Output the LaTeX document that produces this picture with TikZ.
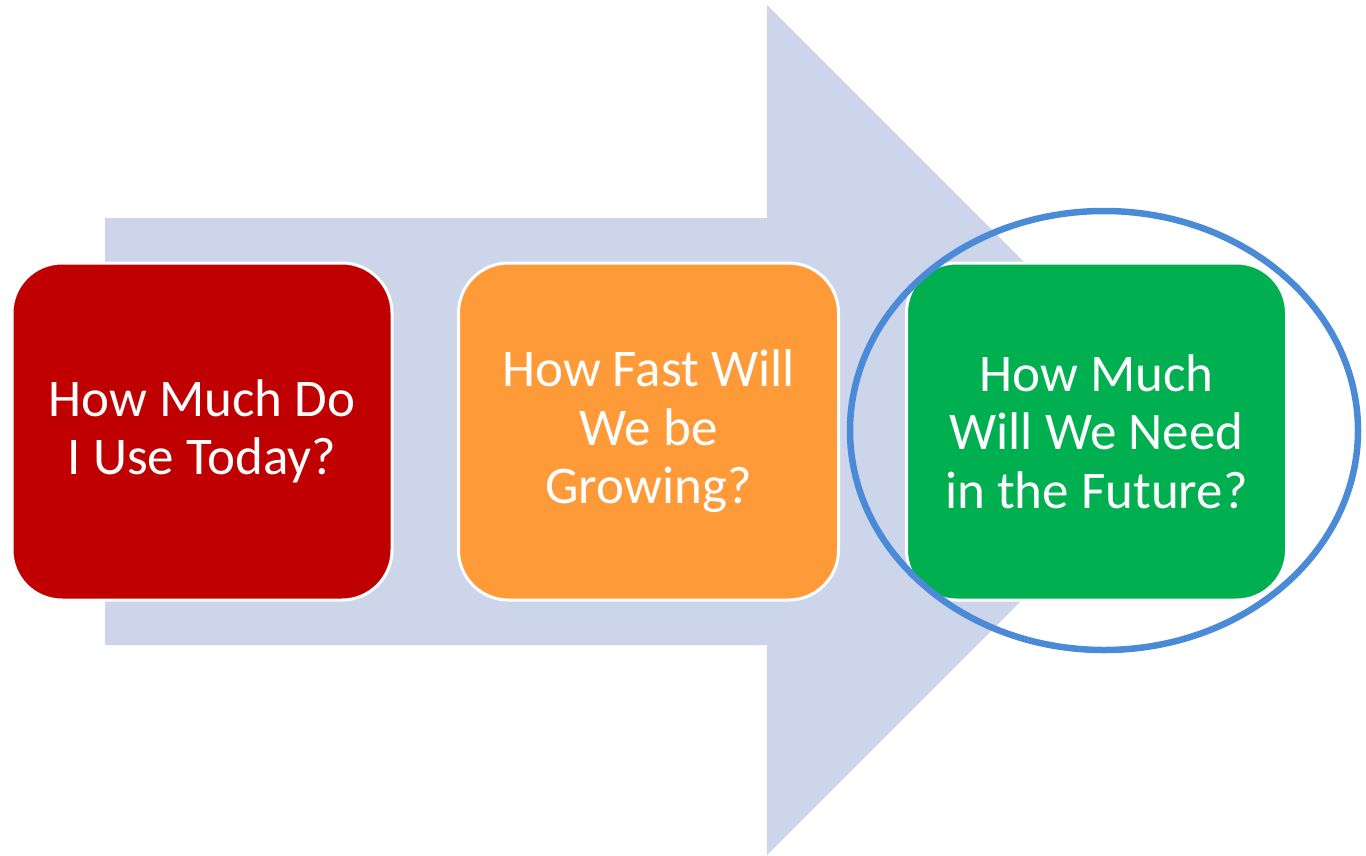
\documentclass[tikz,border=0pt]{standalone}
\usepackage{fontspec}
\setmainfont{Carlito}
\definecolor{arrowfill}{HTML}{CDD5EA}
\definecolor{boxred}{HTML}{C00000}
\definecolor{boxorange}{HTML}{FF9A38}
\definecolor{boxgreen}{HTML}{00B050}
\definecolor{ringblue}{HTML}{4A8AD6}
\tikzset{
  qbox/.style={rectangle, rounded corners=50pt, draw=white, line width=3pt,
    minimum width=380pt, minimum height=337pt, text=white, align=center,
    inner sep=0pt, font=\fontsize{53}{58.5}\selectfont},
}
\begin{document}
\begin{tikzpicture}[x=1pt,y=-1pt]
\useasboundingbox (0,0) rectangle (1366,855);
\fill[white] (0,0) rectangle (1366,855);
% big arrow
\fill[arrowfill] (105,218) -- (767,218) -- (767,5) -- (1192,430) -- (767,855) -- (767,645) -- (105,645) -- cycle;
% boxes
\node[qbox, fill=boxred] (red) at (202,431.5) {How Much Do\\I Use Today?};
\node[qbox, fill=boxorange] (orange) at (648.5,431.5) {How Fast Will\\We be\\Growing?};
\node[qbox, fill=boxgreen] (green) at (1096.5,431.5) {How Much\\Will We Need\\in the Future?};
% ring
\draw[ringblue, line width=6.5pt] (1104,430.5) ellipse [x radius=254, y radius=219.5];
\end{tikzpicture}
\end{document}
